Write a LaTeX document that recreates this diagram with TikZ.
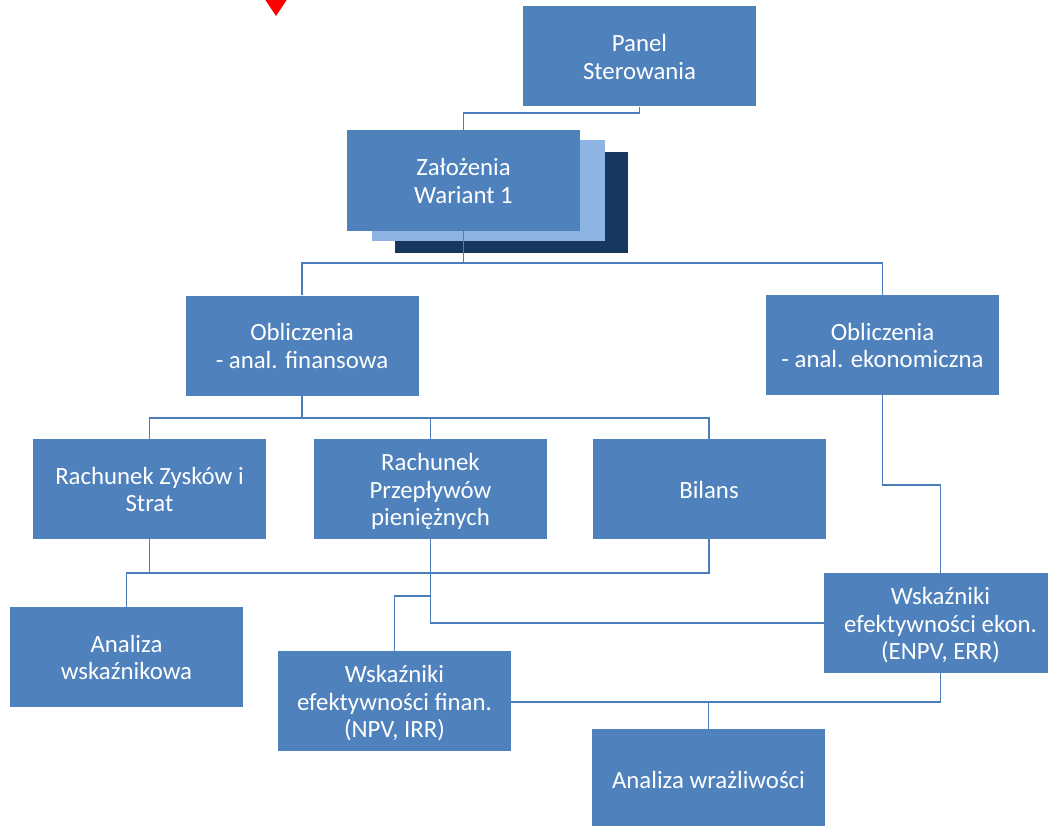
\documentclass[tikz,border=0pt]{standalone}
\usepackage{fontspec}
\setmainfont{Carlito}
\definecolor{boxblue}{HTML}{4F81BD}
\definecolor{lightblue}{HTML}{8EB4E3}
\definecolor{darkblue}{HTML}{17375E}
\definecolor{linkblue}{HTML}{4A7EBB}
% strut spanning one full line box (height + depth = baselineskip)
\newcommand{\linestrut}{\rule[-4.8pt]{0pt}{27.6pt}}
\tikzset{
  box/.style={fill=boxblue, draw=none, minimum width=233pt, minimum height=100pt,
    inner sep=0pt, text width=228pt, align=flush center, text=white,
    font=\fontsize{24.8pt}{27.6pt}\selectfont,
    execute at begin node=\linestrut, execute at end node=\linestrut},
  shadowbox/.style={draw=none, minimum width=233pt, minimum height=101pt, inner sep=0pt},
  link/.style={draw=linkblue, line width=1.8pt, line join=miter}
}
\begin{document}
\begin{tikzpicture}[x=1pt, y=-1pt]
  \useasboundingbox (0,0) rectangle (1048,826);
  \clip (0,0) rectangle (1048,826);

  % marker at the top edge
  \fill[red] (264,-2) -- (288,-2) -- (276,16) -- cycle;

  % stacked variant cards
  \node[shadowbox, fill=darkblue]  (card3) at (511,202.5) {};
  \node[shadowbox, fill=lightblue] (card2) at (488,190.5) {};

  \node[box] (panel) at (639.5,56.5) {Panel\\Sterowania};
  \node[box, minimum height=101pt] (zal) at (463.5,180.5) {Założenia\\Wariant 1};

  \node[box] (oblF) at (302,345.5) {Obliczenia\\- anal. finansowa};
  \node[box] (oblE) at (882.5,345) {Obliczenia\\- anal. ekonomiczna};

  \node[box] (rzis) at (149.5,489) {Rachunek Zysków i\\Strat};
  \node[box] (rpp)  at (430.5,489) {Rachunek\\Przepływów\\pieniężnych};
  \node[box] (bil)  at (709,489) {Bilans};

  \node[box] (aw)  at (126.5,657) {Analiza\\wskaźnikowa};
  \node[box] (wf)  at (394.5,701) {Wskaźniki\\efektywności finan.\\(NPV, IRR)};
  \node[box] (we)  at (940.5,623) {Wskaźniki\\efektywności ekon.\\(ENPV, ERR)};
  \node[box] (awr) at (708.5,779) {Analiza wrażliwości};

  % junction points of the connectors
  \coordinate (jPanel) at (639.5,113);
  \coordinate (jZal)   at (463.5,263);
  \coordinate (jObl)   at (302,418);
  \coordinate (jRach)  at (149.5,573);
  \coordinate (jWf)    at (430.5,596);
  \coordinate (jWe)    at (430.5,623);
  \coordinate (jEkon)  at (882.5,485);
  \coordinate (jInd)   at (940.5,702);
  \coordinate (jAwr)   at (708.5,702);

  % connectors
  \draw[link] (panel.south) -- (jPanel) -| (zal.north);
  \draw[link] (zal.south) -- (jZal);
  \draw[link] (oblF.north) |- (jZal) -| (oblE.north);

  \draw[link] (oblF.south) -- (jObl);
  \draw[link] (rzis.north) |- (jObl) -| (bil.north);
  \draw[link] (jObl) -| (rpp.north);

  \draw[link] (rzis.south) -- (jRach);
  \draw[link] (aw.north) |- (jRach) -| (bil.south);
  \draw[link] (rpp.south) -- (jWe) -- (we.west);
  \draw[link] (jWf) -| (wf.north);

  \draw[link] (oblE.south) -- (jEkon) -| (we.north);

  \draw[link] (we.south) -- (jInd) -- (jInd -| wf.east);
  \draw[link] (jAwr) -- (awr.north);
\end{tikzpicture}
\end{document}
